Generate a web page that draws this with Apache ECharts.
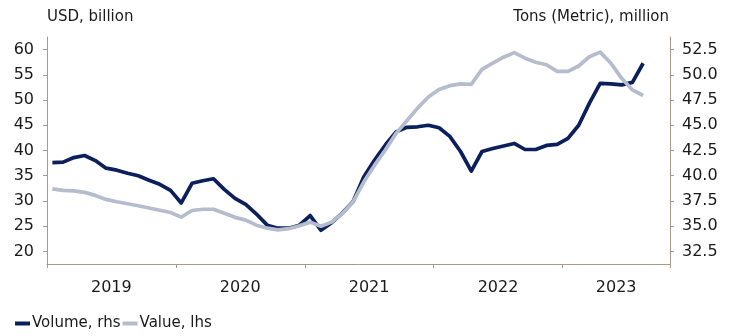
<!DOCTYPE html>
<html>
<head>
<meta charset="utf-8">
<script src="https://cdn.jsdelivr.net/npm/echarts@6/dist/echarts.min.js"></script>
<style>
  html, body { margin: 0; padding: 0; background: #fff; }
  #chart { width: 737px; height: 336px; }
</style>
</head>
<body>
<div id="chart"></div>
<script>
// Monthly categories, Jan 2019 - Oct 2023
const months = [
  '2019-01','2019-02','2019-03','2019-04','2019-05','2019-06','2019-07','2019-08','2019-09','2019-10','2019-11','2019-12',
  '2020-01','2020-02','2020-03','2020-04','2020-05','2020-06','2020-07','2020-08','2020-09','2020-10','2020-11','2020-12',
  '2021-01','2021-02','2021-03','2021-04','2021-05','2021-06','2021-07','2021-08','2021-09','2021-10','2021-11','2021-12',
  '2022-01','2022-02','2022-03','2022-04','2022-05','2022-06','2022-07','2022-08','2022-09','2022-10','2022-11','2022-12',
  '2023-01','2023-02','2023-03','2023-04','2023-05','2023-06','2023-07','2023-08','2023-09','2023-10'
];

// Volume, million metric tons (right axis)
const volume = [
  41.3, 41.35, 41.8, 42.0, 41.5, 40.75, 40.55, 40.25, 40.0, 39.55, 39.15, 38.55,
  37.3, 39.25, 39.5, 39.7, 38.65, 37.75, 37.15, 36.2, 35.1, 34.8, 34.8, 35.1,
  36.05, 34.6, 35.35, 36.3, 37.45, 39.9, 41.55, 43.05, 44.35, 44.8, 44.85, 45.0,
  44.75, 43.9, 42.4, 40.45, 42.4, 42.7, 42.95, 43.2, 42.6, 42.6, 43.0, 43.1,
  43.7, 45.0, 47.2, 49.15, 49.1, 49.0, 49.25, 51.15
];

// Value, USD billion (left axis)
const value = [
  32.4, 32.1, 32.0, 31.7, 31.1, 30.3, 29.85, 29.45, 29.05, 28.6, 28.15, 27.7,
  26.8, 28.1, 28.35, 28.35, 27.55, 26.75, 26.2, 25.2, 24.6, 24.25, 24.5, 25.1,
  25.8, 25.0, 25.8, 27.5, 29.85, 33.8, 37.1, 40.1, 43.4, 45.9, 48.4, 50.6,
  52.1, 52.85, 53.2, 53.1, 56.1, 57.3, 58.5, 59.4, 58.3, 57.5, 57.0, 55.7,
  55.7, 56.75, 58.6, 59.5, 57.3, 54.3, 52.0, 50.9
];

const leftTicks = [20, 25, 30, 35, 40, 45, 50, 55, 60];
const rightTicks = [32.5, 35, 37.5, 40, 42.5, 45, 47.5, 50, 52.5];
const yearLabelIndex = [6, 18, 30, 42, 53];

const FONT = 'DejaVu Sans';
const TXT = '#1a1a1a';
const AX = '#a69a8e';
const NAVY = '#0b1f5c';
const GREY = '#b4bccd';

const chart = echarts.init(document.getElementById('chart'), null, { renderer: 'canvas' });
chart.setOption({
  animation: false,
  textStyle: { fontFamily: FONT, color: TXT },
  title: [
    { text: 'USD, billion', left: 47, top: 10, padding: 0,
      textStyle: { fontFamily: FONT, fontSize: 15, fontWeight: 'normal', color: TXT } },
    { text: 'Tons (Metric), million', right: 68, top: 10, padding: 0,
      textStyle: { fontFamily: FONT, fontSize: 15, fontWeight: 'normal', color: TXT } }
  ],
  legend: {
    left: 15, top: 316, padding: 0, itemGap: 2,
    itemWidth: 15, itemHeight: 4, icon: 'rect',
    textStyle: { fontFamily: FONT, fontSize: 15, color: TXT, padding: [0, 0, 0, -3] },
    data: ['Volume, rhs', 'Value, lhs']
  },
  grid: { left: 47, right: 67, top: 37, bottom: 72, containLabel: false },
  xAxis: {
    type: 'category',
    data: months,
    boundaryGap: true,
    axisLine: { show: true, lineStyle: { color: AX, width: 1 } },
    axisTick: { show: true, length: 4, lineStyle: { color: AX },
      interval: function (i) { return i % 12 === 0; } },
    axisLabel: {
      fontFamily: FONT, fontSize: 16, color: TXT, margin: 16,
      padding: [0, 11, 0, 0],
      interval: function (i) { return yearLabelIndex.indexOf(i) >= 0; },
      formatter: function (v) { return v.slice(0, 4); }
    },
    splitLine: { show: false }
  },
  yAxis: [
    {
      type: 'value', position: 'left', min: 17.5, max: 62.5,
      axisLine: { show: true, lineStyle: { color: AX, width: 1 } },
      axisTick: { show: true, length: 4, lineStyle: { color: AX }, customValues: leftTicks },
      axisLabel: { fontFamily: FONT, fontSize: 16, color: TXT, margin: 13, customValues: leftTicks },
      splitLine: { show: false }
    },
    {
      type: 'value', position: 'right', min: 31.25, max: 53.75,
      axisLine: { show: true, lineStyle: { color: AX, width: 1 } },
      axisTick: { show: true, length: 4, lineStyle: { color: AX }, customValues: rightTicks },
      axisLabel: { fontFamily: FONT, fontSize: 16, color: TXT, margin: 12, customValues: rightTicks,
        formatter: function (v) { return v.toFixed(1); } },
      splitLine: { show: false }
    }
  ],
  series: [
    {
      name: 'Volume, rhs', type: 'line', yAxisIndex: 1, data: volume,
      showSymbol: false, symbol: 'none', smooth: false,
      lineStyle: { color: NAVY, width: 3.7, join: 'round' },
      itemStyle: { color: NAVY }, z: 2
    },
    {
      name: 'Value, lhs', type: 'line', yAxisIndex: 0, data: value,
      showSymbol: false, symbol: 'none', smooth: false,
      lineStyle: { color: GREY, width: 3.7, join: 'round' },
      itemStyle: { color: GREY }, z: 3
    }
  ]
});
</script>
</body>
</html>
